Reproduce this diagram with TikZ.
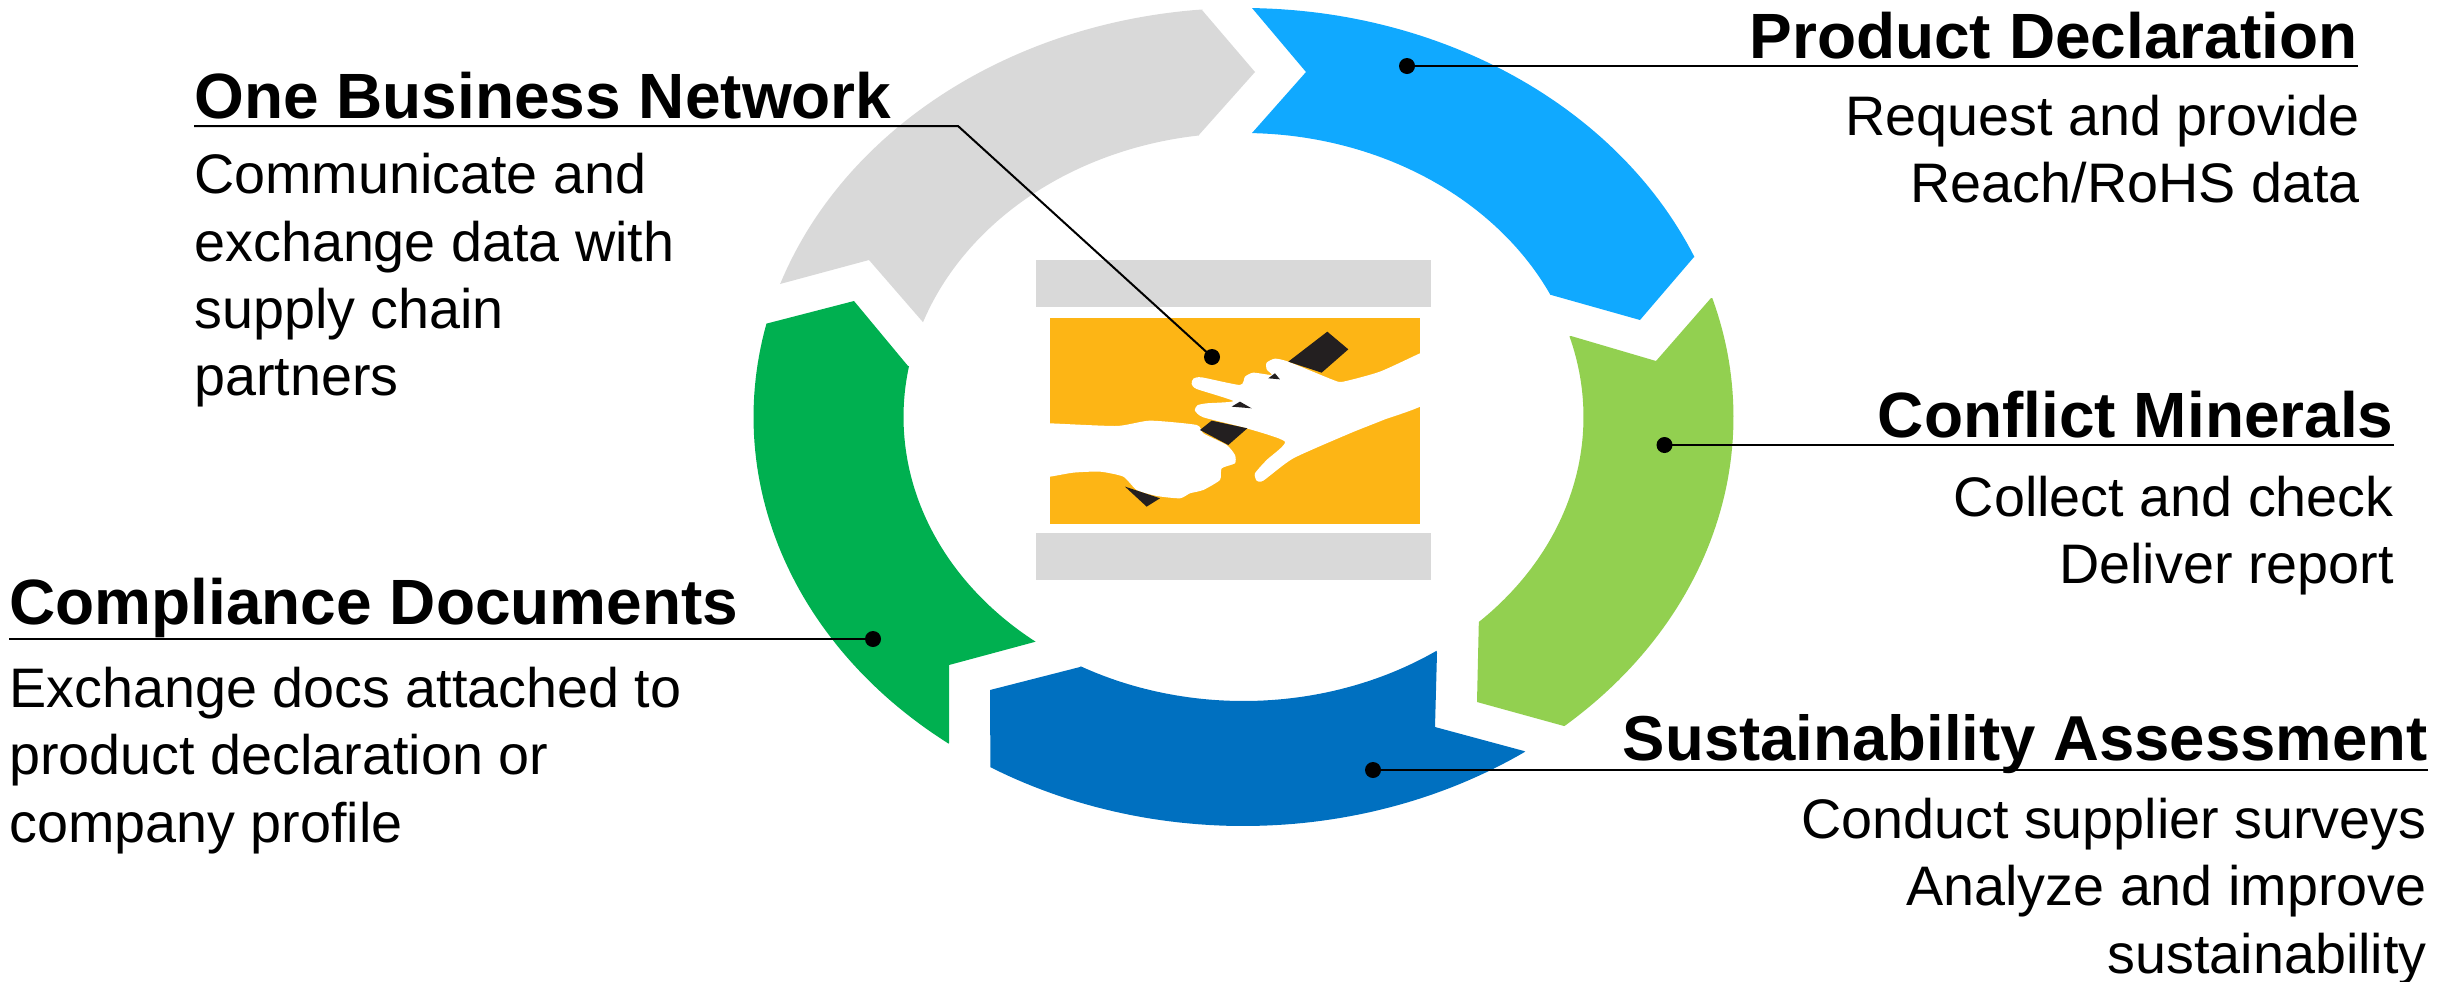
\documentclass[tikz,border=0pt]{standalone}
\usepackage{fontspec}
\setmainfont{Liberation Sans}
\definecolor{cgrey}{HTML}{D9D9D9}
\definecolor{cblue}{HTML}{10A9FF}
\definecolor{cdark}{HTML}{0070C0}
\definecolor{cgreen}{HTML}{00B050}
\definecolor{clime}{HTML}{92D050}
\definecolor{corange}{HTML}{FDB515}
\definecolor{cbaton}{HTML}{231F20}
\begin{document}
\begin{tikzpicture}[x=.5pt,y=-.5pt,
  titlew/.style={anchor=base west,inner sep=0pt,font=\fontsize{32}{38}\selectfont\bfseries},
  titlee/.style={anchor=base east,inner sep=0pt,font=\fontsize{32}{38}\selectfont\bfseries},
  bodyw/.style={anchor=north west,inner sep=0pt,align=left,font=\fontsize{27.85}{33.7}\selectfont},
  bodye/.style={anchor=north east,inner sep=0pt,align=right,font=\fontsize{27.85}{33.7}\selectfont},
  dotm/.style={circle,fill=black,inner sep=0pt,minimum size=8pt},
  leader/.style={draw=black,line width=1pt},
  baton/.style={fill=cbaton},
  hand/.style={fill=white},
  outarc/.style 2 args={insert path={-- plot[domain=#1:#2,samples=60]({1243.5+490*cos(\x)},{417+409*sin(\x)})}},
  inarc/.style 2 args={insert path={-- plot[domain=#1:#2,samples=60]({1243.5+340*cos(\x)},{417+284*sin(\x)})}}]
\useasboundingbox (0,0) rectangle (2459,981);
% ring segments
\fill[cblue] (1252,8) -- (1306,72) -- (1252,133) [inarc={-88.5}{-25.5}] -- (1640,320) -- (1694,257) [outarc={-23}{-89}] -- cycle;
\fill[cgrey] (1202,10) -- (1255,72) -- (1198,136) [inarc={-97.6}{-160.5}] -- (869,260) -- (780,284) [outarc={-161}{-94.8}] -- cycle;
\fill[cgreen] (854,301) -- (908,366) [inarc={190.3}{127.7}] -- (949,665) -- (949,743) [outarc={127}{193.2}] -- cycle;
\fill[clime] (1711,298) -- (1656,361) -- (1571,336) [inarc={-16.5}{46.2}] -- (1477,702) -- (1564,726) [outarc={49}{-16.9}] -- cycle;
\fill[cdark] (1437,653) -- (1435,727) -- (1524,751) [outarc={54.9}{121.1}] -- (990,690) -- (1080,667) [inarc={118.6}{55.4}] -- cycle;
% centre picture
\fill[cgrey] (1036,260) rectangle (1431,307);
\fill[cgrey] (1036,533) rectangle (1431,580);
\fill[corange] (1050,318) rectangle (1420,524);
\begin{scope}[shift={(950,220)},xscale=.3333,yscale=.3333]
\fill[hand] plot[smooth cycle,tension=.35] coordinates {(1443,388)(1410,400)(1290,455)(1180,485)(1150,480)(1015,425)(975,416)(950,428)(950,448)(965,465)(910,458)(885,470)(870,495)(755,472)(730,476)(725,492)(740,507)(850,543)(770,550)(742,556)(735,572)(760,592)(890,625)(1005,665)(950,720)(915,760)(920,782)(940,782)(1030,715)(1200,640)(1300,600)(1443,540)};
\fill[hand] plot[smooth cycle,tension=.35] coordinates {(258,610)(300,610)(500,618)(600,602)(740,615)(760,640)(830,675)(855,705)(855,730)(815,745)(810,780)(760,810)(720,820)(690,835)(620,828)(560,810)(520,770)(450,755)(370,758)(300,770)(258,770)};
\fill[baton] (1132,335) -- (1195,388) -- (1115,458) -- (1015,425) -- cycle;
\fill[baton] (955,475) -- (975,460) -- (990,478) -- cycle;
\fill[baton] (845,560) -- (870,545) -- (905,565) -- cycle;
\fill[baton] (750,630) -- (785,602) -- (892,625) -- (835,675) -- cycle;
\fill[baton] (525,800) -- (630,835) -- (590,860) -- cycle;
\end{scope}
% titles and bodies
\node[titlew] (netT) at (194,118) {One Business Network};
\node[bodyw] (netB) at (194,153) {Communicate and\\exchange data with\\supply chain\\partners};
\node[titlee] (prodT) at (2358,58) {Product Declaration};
\node[bodye] (prodB) at (2360,94.5) {Request and provide\\Reach/RoHS data};
\node[titlee] (confT) at (2394,437) {Conflict Minerals};
\node[bodye] (confB) at (2394,475.5) {Collect and check\\Deliver report};
\node[titlee,font=\fontsize{31.75}{38}\selectfont\bfseries] (sustT) at (2428,760) {Sustainability Assessment};
\node[bodye] (sustB) at (2427,797.5) {Conduct supplier surveys\\Analyze and improve\\sustainability};
\node[titlew] (compT) at (9,624) {Compliance Documents};
\node[bodyw] (compB) at (9,666.5) {Exchange docs attached to\\product declaration or\\company profile};
% dots
\node[dotm] (netD) at (1212,357) {};
\node[dotm] (prodD) at (1407,66) {};
\node[dotm] (confD) at (1664.5,445) {};
\node[dotm] (sustD) at (1373,770) {};
\node[dotm] (compD) at (873,639) {};
% leader ends
\coordinate (netA) at (194,126);
\coordinate (netK) at (958,126);
\coordinate (prodA) at (2358,66);
\coordinate (confA) at (2394,445);
\coordinate (sustA) at (2428,770);
\coordinate (compA) at (9,639);
\draw[leader] (netA) -- (netK) -- (netD.center);
\draw[leader] (prodA) -- (prodD.center);
\draw[leader] (confA) -- (confD.center);
\draw[leader] (sustA) -- (sustD.center);
\draw[leader] (compA) -- (compD.center);
\end{tikzpicture}
\end{document}
